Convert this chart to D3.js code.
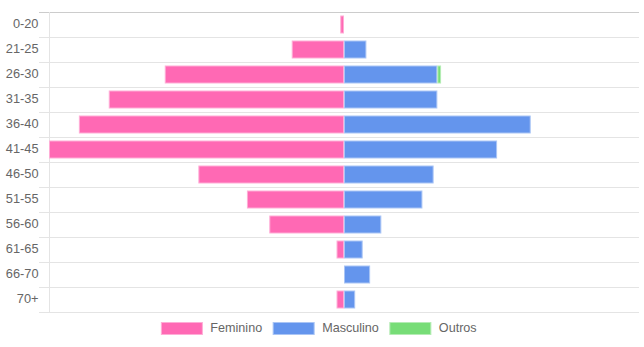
<!DOCTYPE html>
<html>
<head>
<meta charset="utf-8">
<script src="https://cdn.jsdelivr.net/npm/d3@7"></script>
<style>
  body { margin: 0; background: #fff; }
  svg text { font-family: "Liberation Sans", Arial, Helvetica, sans-serif; }
</style>
</head>
<body>
<div id="chart"></div>
<script>
// Age groups (top to bottom)
const ageGroups = ["0-20", "21-25", "26-30", "31-35", "36-40", "41-45", "46-50", "51-55", "56-60", "61-65", "66-70", "70+"];

// Series values (female drawn to the left of zero)
const feminino  = [1, 14, 48, 63, 71, 79, 39, 26, 20, 2, 0, 2];
const masculino = [0, 6, 25, 25, 50, 41, 24, 21, 10, 5, 7, 3];
const outros    = [0, 0, 1, 0, 0, 0, 0, 0, 0, 0, 0, 0];

const seriesNames = ["Feminino", "Masculino", "Outros"];
const seriesColors = ["#FF69B4", "#6495ED", "#77DD77"];

const W = 644, H = 347;
const plot = { left: 49, right: 639, top: 12, bottom: 312 };

const svg = d3.select("#chart").append("svg")
  .attr("width", W)
  .attr("height", H);

const maxVal = d3.max(feminino.map((f, i) => Math.max(f, masculino[i] + outros[i])));

const x = d3.scaleLinear()
  .domain([-maxVal, maxVal])
  .range([plot.left, plot.right]);

// rows for grid lines, bars inset inside each row
const rows = d3.scaleBand()
  .domain(ageGroups)
  .range([plot.top, plot.bottom]);

const bars = d3.scaleBand()
  .domain(ageGroups)
  .range([plot.top, plot.bottom])
  .paddingInner(0.28)
  .paddingOuter(0.14);

// grid lines at row boundaries
const bounds = ageGroups.map(d => rows(d)).concat([plot.bottom]);
svg.append("g")
  .selectAll("line")
  .data(bounds)
  .join("line")
  .attr("x1", plot.left - 10)
  .attr("x2", plot.right)
  .attr("y1", d => Math.round(d) + 0.5)
  .attr("y2", d => Math.round(d) + 0.5)
  .attr("stroke", (d, i) => i === 0 ? "#cccccc" : "#e4e4e4")
  .attr("stroke-width", 1);

svg.append("line")
  .attr("x1", plot.left + 0.5)
  .attr("x2", plot.left + 0.5)
  .attr("y1", plot.top)
  .attr("y2", plot.bottom)
  .attr("stroke", "#e4e4e4");

// y axis labels
const yAxis = svg.append("g")
  .attr("transform", `translate(${plot.left - 10},-1)`)
  .call(d3.axisLeft(rows).tickSize(0).tickPadding(0.5));
yAxis.select(".domain").remove();
yAxis.selectAll("text")
  .attr("fill", "#666")
  .attr("font-size", "12.8px");

const light = c => d3.interpolateRgb(c, "#ffffff")(0.45);

function drawBar(x0, x1, yPos, color) {
  if (Math.abs(x1 - x0) < 0.01) return;
  const left = Math.min(x0, x1), w = Math.abs(x1 - x0);
  svg.append("rect")
    .attr("x", left + 0.5)
    .attr("y", yPos + 0.5)
    .attr("width", Math.max(w - 1, 0.5))
    .attr("height", bars.bandwidth() - 1)
    .attr("fill", color)
    .attr("stroke", light(color))
    .attr("stroke-width", 1);
}

ageGroups.forEach((g, i) => {
  const yy = bars(g);
  drawBar(x(-feminino[i]), x(0), yy, seriesColors[0]);
  drawBar(x(0), x(masculino[i]), yy, seriesColors[1]);
  drawBar(x(masculino[i]), x(masculino[i] + outros[i]), yy, seriesColors[2]);
});

// legend
const legend = svg.append("g");
const boxW = 42, boxH = 12, gap = 7, itemGap = 11;
const items = legend.selectAll("g")
  .data(seriesNames)
  .join("g");
items.append("rect")
  .attr("y", 322.5)
  .attr("width", boxW - 1)
  .attr("height", boxH)
  .attr("fill", (d, i) => seriesColors[i])
  .attr("stroke", (d, i) => light(seriesColors[i]));
items.append("text")
  .attr("x", boxW + gap)
  .attr("y", 327.5)
  .attr("dy", "0.35em")
  .attr("fill", "#666")
  .attr("font-size", "12.6px")
  .text(d => d);

let widths = [];
items.each(function () {
  widths.push(boxW + gap + d3.select(this).select("text").node().getComputedTextLength());
});
const total = d3.sum(widths) + itemGap * (widths.length - 1);
let cx = 319 - total / 2;
items.each(function (d, i) {
  d3.select(this).attr("transform", `translate(${cx},0)`);
  cx += widths[i] + itemGap;
});
</script>
</body>
</html>
